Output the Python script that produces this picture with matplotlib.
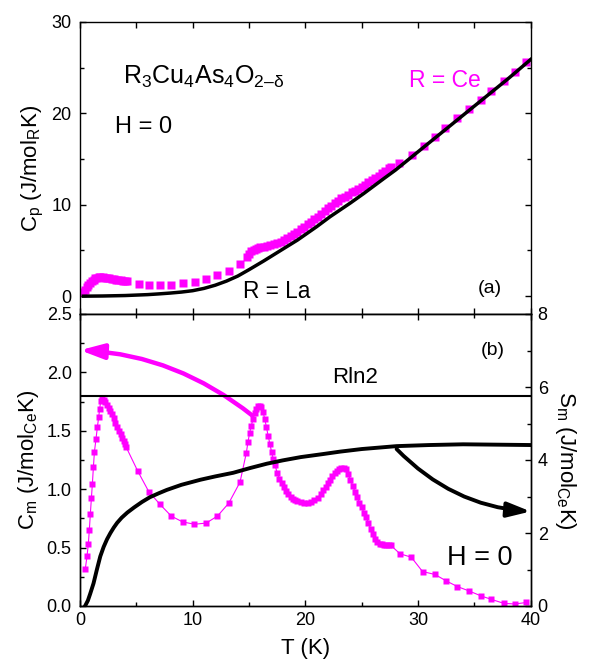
import numpy as np
import matplotlib
matplotlib.use("Agg")
import matplotlib.pyplot as plt
from matplotlib.patches import FancyArrowPatch
from matplotlib.ticker import MultipleLocator, FormatStrFormatter

plt.rcParams['font.family'] = ['Liberation Sans', 'DejaVu Sans']
plt.rcParams['mathtext.fontset'] = 'custom'
plt.rcParams['mathtext.rm'] = 'Liberation Sans'
plt.rcParams['mathtext.it'] = 'Liberation Sans:italic'
plt.rcParams['mathtext.sf'] = 'Liberation Sans'

MAGENTA = '#FF00FF'

# ---- (a) total specific heat ----
ce_T = [0.3, 0.45, 0.6, 0.75, 0.9, 1.05, 1.2, 1.35, 1.5, 1.65, 1.8, 2.0, 2.2, 2.4,
        2.6, 2.8, 3.0, 3.2, 3.4, 3.6, 3.8, 4.0, 4.2,
        5.2, 6.1, 7.1, 8.1, 9.1, 10.2, 11.2, 12.2, 13.2, 14.2,
        14.8, 15.0, 15.2, 15.4, 15.6, 15.8, 16.0, 16.3, 16.6, 16.9, 17.2, 17.5,
        17.8, 18.1, 18.4, 18.7, 19.0, 19.3, 19.6, 19.9, 20.2, 20.5, 20.8, 21.1,
        21.4, 21.7, 22.0, 22.3, 22.6, 22.9, 23.2, 23.5, 23.8, 24.1, 24.4, 24.7,
        25.0, 25.3, 25.6, 25.9, 26.2, 26.5, 26.8, 27.1, 27.4, 27.6,
        28.3, 29.5, 30.5, 31.5, 32.4, 33.5, 34.5, 35.6, 36.5, 37.6, 38.6, 39.6, 40.6]
ce_Cp = [0.45, 0.7, 0.95, 1.2, 1.45, 1.65, 1.8, 1.95, 2.02, 2.06, 2.07, 2.05, 2.02, 1.98,
         1.95, 1.9, 1.86, 1.82, 1.78, 1.74, 1.7, 1.66, 1.62,
         1.33, 1.22, 1.2, 1.27, 1.4, 1.6, 1.9, 2.3, 2.8, 3.5,
         4.3, 4.6, 4.9, 5.1, 5.2, 5.3, 5.35, 5.4, 5.5, 5.6, 5.7, 5.8,
         5.96, 6.15, 6.35, 6.55, 6.8, 7.05, 7.3, 7.55, 7.85, 8.1, 8.4, 8.7,
         9.0, 9.3, 9.6, 9.9, 10.15, 10.45, 10.7, 10.9, 11.1, 11.35, 11.55, 11.75,
         11.95, 12.2, 12.45, 12.7, 12.95, 13.2, 13.5, 13.75, 14.0, 14.15,
         14.6, 15.5, 16.4, 17.4, 18.4, 19.5, 20.5, 21.5, 22.5, 23.5, 24.5, 25.6, 26.6]

la_T = [0.3, 2, 4, 6, 7, 8, 9, 10, 11, 12, 13, 14, 15, 16.3, 18, 19.3, 21, 22.2,
        24, 25.2, 27, 28, 30, 32, 34, 36, 38, 40]
la_Cp = [0.0, 0.02, 0.07, 0.17, 0.25, 0.34, 0.45, 0.6, 0.85, 1.2, 1.65, 2.2, 2.9,
         3.85, 5.15, 6.14, 7.6, 8.7, 10.2, 11.25, 12.9, 13.8, 15.8, 17.8, 19.8,
         21.8, 23.8, 25.9]

# ---- (b) magnetic specific heat and entropy ----
cm_T = [0.47, 0.62, 0.74, 0.83, 0.92, 1.01, 1.10, 1.19, 1.28, 1.42, 1.54, 1.66, 1.75,
        1.84, 1.96, 2.1, 2.25, 2.4, 2.55, 2.7, 2.85, 3.0, 3.15, 3.3, 3.45, 3.6, 3.75,
        3.9, 4.0, 4.1,
        5.13, 6.1, 7.1, 8.1, 9.1, 10.16, 11.2, 12.2, 13.2, 14.2,
        14.76, 14.9, 15.05, 15.2, 15.35, 15.5, 15.65, 15.8, 15.95, 16.1, 16.25, 16.4,
        16.55, 16.7, 16.85, 17.0, 17.15, 17.3, 17.5, 17.7, 17.9, 18.1, 18.3, 18.5,
        18.7, 18.9, 19.1, 19.3, 19.6, 19.9, 20.2, 20.5, 20.8, 21.1, 21.35, 21.6, 21.8,
        22.0, 22.2, 22.4, 22.6, 22.8, 23.0, 23.2, 23.4, 23.6, 23.8, 24.0, 24.2, 24.4,
        24.6, 24.8, 25.0, 25.2, 25.4, 25.6, 25.8, 26.0, 26.2, 26.4, 26.6, 26.8, 27.0,
        27.2, 27.4, 27.6,
        28.4, 29.4, 30.4, 31.5, 32.5, 33.5, 34.5, 35.6, 36.5, 37.6, 38.6, 39.6]
cm_val = [0.318, 0.424, 0.533, 0.653, 0.79, 0.922, 1.048, 1.19, 1.32, 1.43, 1.53, 1.62, 1.69,
          1.755, 1.775, 1.765, 1.745, 1.72, 1.695, 1.67, 1.64, 1.61, 1.57, 1.53, 1.50, 1.47,
          1.44, 1.41, 1.385, 1.36,
          1.154, 0.98, 0.87, 0.77, 0.72, 0.70, 0.71, 0.77, 0.88, 1.06,
          1.31, 1.40, 1.48, 1.54, 1.60, 1.65, 1.69, 1.71, 1.715, 1.70, 1.66, 1.60,
          1.53, 1.455, 1.39, 1.32, 1.26, 1.21, 1.14, 1.09, 1.05, 1.015, 0.985, 0.955,
          0.935, 0.92, 0.905, 0.896, 0.888, 0.882, 0.88, 0.888, 0.905, 0.925, 0.955, 0.99, 1.02,
          1.05, 1.08, 1.11, 1.135, 1.155, 1.17, 1.18, 1.185, 1.17, 1.13, 1.08, 1.03, 0.98,
          0.93, 0.885, 0.845, 0.80, 0.76, 0.71, 0.66, 0.615, 0.575, 0.55, 0.535, 0.528, 0.524,
          0.521, 0.519, 0.518,
          0.447, 0.418, 0.295, 0.27, 0.215, 0.166, 0.13, 0.086, 0.057, 0.023, 0.017, 0.03]

sm_T = [0.45, 0.7, 0.9, 1.2, 1.5, 1.8, 2.1, 2.4, 2.7, 3.0, 3.3, 3.7, 4.2, 4.8, 5.5,
        6.2, 7.0, 7.7, 9.0, 10.7, 12.0, 13.6, 15.1, 16.6, 18.0, 19.6, 21.5, 23.1,
        25.0, 28.1, 31.0, 34.0, 37.0, 40.0]
sm_val = [0.0, 0.15, 0.33, 0.62, 1.0, 1.36, 1.62, 1.83, 2.0, 2.15, 2.28, 2.42, 2.56, 2.7, 2.85,
          2.98, 3.09, 3.18, 3.32, 3.46, 3.55, 3.65, 3.78, 3.9, 3.99, 4.08, 4.16, 4.23,
          4.3, 4.38, 4.41, 4.43, 4.42, 4.41]

RLN2 = 5.763

fig = plt.figure(figsize=(5.92, 6.62), dpi=100)
L, R = 80 / 592, 530.7 / 592
ax1 = fig.add_axes([L, 1 - 314 / 662, R - L, (314 - 22) / 662])
ax2 = fig.add_axes([L, 1 - 606 / 662, R - L, (606 - 314) / 662])
axr = ax2.twinx()

for ax in (ax1, ax2, axr):
    for s in ax.spines.values():
        s.set_linewidth(1.0)

tick_kw = dict(direction='in', width=1.0, labelsize=13)

# panel (a)
ax1.plot(ce_T, ce_Cp, 's', color=MAGENTA, ms=5.5, mec='none', zorder=2)
ax1.plot(la_T, la_Cp, '-', color='black', lw=2.5, zorder=3)
ax1.set_xlim(0, 40)
ax1.set_ylim(-1.95, 30)
ax1.xaxis.set_major_locator(MultipleLocator(5))
ax1.yaxis.set_major_locator(MultipleLocator(10))
ax1.yaxis.set_minor_locator(MultipleLocator(5))
ax1.tick_params(which='major', length=4, top=True, right=True, labelbottom=False, pad=6, **tick_kw)
ax1.tick_params(which='minor', length=3, top=True, right=True, **tick_kw)
ax1.set_ylabel(r'C$_\mathregular{p}$ (J/mol$_\mathregular{R}$K)', fontsize=16, labelpad=4)

formula = (r'R$_\mathregular{3}$Cu$_\mathregular{4}$As$_\mathregular{4}$O$_\mathregular{2'
           + '\u2013' + r'\delta}$')
ax1.text(3.8, 23.27, formula, fontsize=18, va='baseline')
ax1.text(3.1, 17.8, 'H = 0', fontsize=17, va='baseline')
ax1.text(29.2, 22.9, 'R = Ce', fontsize=16.5, va='baseline', color=MAGENTA)
ax1.text(14.5, -0.23, 'R = La', fontsize=16.3, va='baseline')
ax1.text(35.3, 0.8, '(a)', fontsize=14, va='center')

# panel (b)
ax2.plot(cm_T, cm_val, '-s', color=MAGENTA, ms=4.5, mec='none', lw=0.8, zorder=2)
axr.plot(sm_T, sm_val, '-', color='black', lw=2.8, zorder=3)
axr.axhline(RLN2, color='black', lw=1.5)
ax2.set_xlim(0, 40)
ax2.set_ylim(0, 2.5)
axr.set_ylim(0, 8)
ax2.xaxis.set_major_locator(MultipleLocator(10))
ax2.xaxis.set_minor_locator(MultipleLocator(5))
ax2.yaxis.set_major_locator(MultipleLocator(0.5))
ax2.yaxis.set_minor_locator(MultipleLocator(0.25))
axr.yaxis.set_major_locator(MultipleLocator(2))
axr.yaxis.set_minor_locator(MultipleLocator(1))
ax2.tick_params(which='major', length=4, top=True, right=False, pad=6, **tick_kw)
ax2.tick_params(which='minor', length=3, top=True, right=False, **tick_kw)
ax2.tick_params(axis='x', which='major', pad=4)
axr.tick_params(which='major', length=4, pad=5, **tick_kw)
axr.tick_params(which='minor', length=3, **tick_kw)
ax2.yaxis.set_major_formatter(FormatStrFormatter('%.1f'))
ax2.set_ylabel(r'C$_\mathregular{m}$ (J/mol$_\mathregular{Ce}$K)', fontsize=16, labelpad=4)
axr.set_ylabel(r'S$_\mathregular{m}$ (J/mol$_\mathregular{Ce}$K)', fontsize=16, rotation=270,
               labelpad=22)
ax2.set_xlabel('T (K)', fontsize=16, labelpad=7)

ax2.text(22.4, 1.956, 'Rln2', fontsize=16, va='center')
ax2.text(35.6, 2.185, '(b)', fontsize=14, va='center')
ax2.text(32.6, 0.41, 'H = 0', fontsize=19.5, va='center')

arr_m = FancyArrowPatch((15.3, 1.63), (0.0, 2.19), transform=ax2.transData,
                        connectionstyle='arc3,rad=0.16',
                        arrowstyle='-|>,head_length=1.4,head_width=0.45', mutation_scale=10,
                        color=MAGENTA, lw=3.2, shrinkA=0, shrinkB=0, clip_on=False, zorder=4)
ax2.add_patch(arr_m)
arr_k = FancyArrowPatch((28.1, 4.3), (40.0, 2.59), transform=axr.transData,
                        connectionstyle='arc3,rad=0.19',
                        arrowstyle='-|>,head_length=1.4,head_width=0.45', mutation_scale=10,
                        color='black', lw=2.8, shrinkA=0, shrinkB=0, clip_on=False, zorder=4)
axr.add_patch(arr_k)

fig.savefig('out.png', dpi=100)
